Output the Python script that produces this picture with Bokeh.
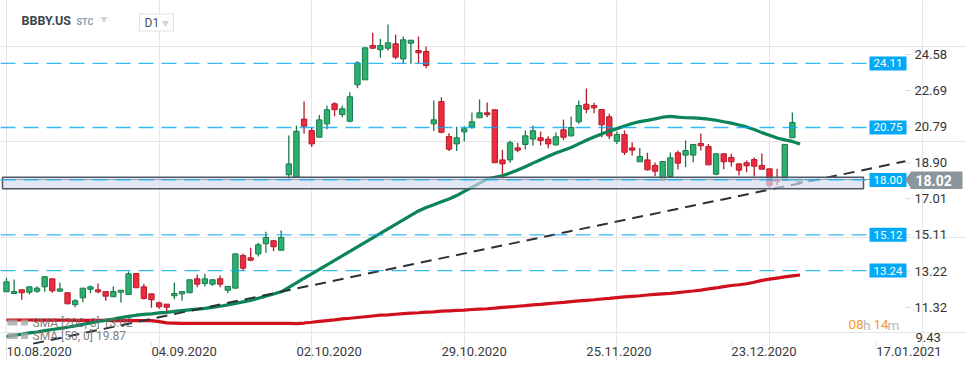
from bokeh.plotting import figure
from bokeh.models import Range1d, Label, PolyAnnotation, ColumnDataSource
from bokeh.core.properties import value
from bokeh.embed import file_html
from bokeh.resources import INLINE

# ---------------- data ----------------
symbol = "BBBY.US"
date_ticks = [0, 19, 38, 57, 76, 95, 114]
date_labels = ["10.08.2020", "04.09.2020", "02.10.2020", "29.10.2020",
               "25.11.2020", "23.12.2020", "17.01.2021"]
price_ticks = [11.32, 13.22, 15.11, 17.01, 18.90, 20.79, 22.69, 24.58]
bottom_tick = 9.43

open_ = [12.13, 12.04, 12.23, 12.11, 12.16, 12.39, 12.81, 12.16, 12.08, 11.45,
         11.81, 12.26, 12.23, 12.14, 11.87, 12.11, 11.99, 13.09, 12.39, 12.02,
         11.55, 11.48, 11.92, 12.02, 12.08, 12.81, 12.56, 12.53, 12.81, 12.21,
         12.32, 14.03, 13.91, 14.12, 14.65, 14.81, 14.31, 18.27, 18.14, 21.19,
         20.59, 20.24, 20.94, 21.99, 21.43, 21.08, 22.99, 23.25, 25.05, 24.83,
         24.91, 25.14, 24.35, 25.17, 24.79, 24.74, 20.94, 22.11, 20.28, 19.89,
         20.52, 20.77, 21.26, 21.52, 21.68, 19.05, 19.05, 19.68, 19.86, 20.14,
         20.21, 20.14, 19.84, 20.63, 20.31, 21.05, 21.97, 21.90, 21.69, 21.31,
         20.03, 20.38, 19.68, 18.95, 19.05, 18.76, 17.97, 18.18, 19.42, 19.30,
         19.30, 19.91, 19.75, 18.30, 19.37, 19.18, 18.84, 18.90, 19.07, 18.76,
         18.58, 18.00, 17.97, 20.21, 17.84]
high = [12.86, 12.77, 12.25, 12.42, 12.42, 12.95, 12.83, 12.62, 12.08, 11.74,
        12.32, 12.46, 12.56, 12.14, 12.41, 12.21, 13.19, 13.09, 12.55, 12.02,
        11.62, 11.48, 12.62, 12.14, 12.76, 13.04, 13.07, 12.76, 12.98, 12.41,
        14.12, 14.14, 14.44, 14.70, 15.28, 14.86, 15.35, 20.33, 20.85, 22.11,
        20.73, 21.41, 21.89, 22.08, 21.89, 22.60, 24.23, 24.93, 25.72, 25.40,
        26.15, 25.63, 25.52, 25.33, 25.52, 25.00, 22.17, 22.34, 20.45, 20.79,
        20.82, 21.54, 22.22, 22.06, 21.68, 19.58, 20.07, 19.95, 20.59, 20.85,
        20.54, 20.29, 20.49, 21.17, 21.33, 22.17, 22.80, 22.05, 21.69, 21.47,
        20.54, 20.59, 19.98, 19.68, 19.42, 18.91, 18.97, 19.44, 19.54, 20.07,
        19.86, 20.43, 19.89, 19.37, 19.37, 19.37, 18.88, 19.02, 19.18, 19.38,
        18.58, 18.58, 19.86, 21.54, 18.08]
low = [12.13, 12.04, 11.71, 11.99, 12.08, 12.13, 12.08, 12.13, 11.48, 11.32,
       11.58, 12.05, 12.05, 11.66, 11.87, 11.57, 11.96, 12.34, 11.73, 11.29,
       11.24, 11.08, 11.74, 11.66, 12.08, 12.37, 12.41, 12.45, 12.37, 12.05,
       12.32, 13.25, 13.73, 13.98, 14.18, 14.26, 14.31, 18.01, 18.11, 20.42,
       19.72, 20.24, 20.66, 21.34, 21.29, 21.03, 22.81, 23.25, 24.88, 24.41,
       24.79, 24.33, 24.09, 24.09, 24.09, 23.86, 20.56, 20.45, 19.51, 19.51,
       20.01, 20.68, 21.26, 21.29, 18.90, 18.06, 18.90, 19.45, 19.60, 19.80,
       19.80, 19.66, 19.80, 20.10, 20.28, 20.94, 21.50, 21.50, 20.24, 20.14,
       19.89, 19.30, 19.28, 18.95, 18.49, 18.19, 17.97, 18.18, 18.55, 18.67,
       18.93, 19.54, 18.79, 18.25, 18.56, 18.70, 18.23, 18.40, 18.18, 18.56,
       17.53, 17.71, 17.97, 20.21, 17.82]
close = [12.65, 12.14, 12.08, 12.39, 12.32, 12.92, 12.18, 12.28, 11.50, 11.66,
         12.32, 12.39, 12.13, 11.90, 12.14, 12.21, 13.07, 12.34, 11.78, 11.71,
         11.34, 11.32, 12.04, 12.14, 12.76, 12.53, 12.81, 12.76, 12.53, 12.41,
         14.12, 13.37, 13.79, 14.60, 14.98, 14.49, 14.98, 18.84, 20.55, 20.82,
         19.89, 21.15, 21.68, 21.68, 21.73, 22.36, 24.14, 24.93, 24.91, 25.05,
         25.19, 24.44, 25.35, 25.33, 24.67, 24.00, 21.15, 20.50, 19.61, 20.21,
         20.68, 21.05, 21.52, 21.42, 18.90, 18.84, 19.95, 19.56, 20.31, 20.58,
         20.07, 19.89, 20.26, 20.24, 20.75, 21.90, 21.71, 21.78, 20.89, 20.31,
         20.38, 19.45, 19.56, 19.23, 18.53, 18.46, 18.97, 19.16, 18.88, 19.54,
         19.86, 19.79, 18.79, 19.37, 18.95, 18.95, 18.51, 18.74, 18.72, 18.56,
         17.72, 17.93, 19.86, 21.01, 18.02]
sma50 = [9.77, 9.84, 9.90, 9.97, 10.02, 10.09, 10.15, 10.21, 10.27, 10.34,
         10.42, 10.49, 10.57, 10.63, 10.70, 10.77, 10.84, 10.90, 10.94, 10.97,
         11.02, 11.05, 11.10, 11.14, 11.18, 11.22, 11.26, 11.31, 11.37, 11.44,
         11.52, 11.60, 11.67, 11.79, 11.90, 12.01, 12.13, 12.36, 12.60, 12.84,
         13.07, 13.31, 13.54, 13.78, 14.01, 14.25, 14.48, 14.72, 14.96, 15.19,
         15.43, 15.67, 15.90, 16.14, 16.37, 16.55, 16.70, 16.85, 17.00, 17.18,
         17.40, 17.61, 17.83, 18.05, 18.13, 18.22, 18.36, 18.52, 18.69, 18.88,
         19.06, 19.24, 19.41, 19.55, 19.70, 19.89, 20.08, 20.25, 20.41, 20.56,
         20.69, 20.83, 20.96, 21.06, 21.12, 21.20, 21.29, 21.33, 21.29, 21.26,
         21.25, 21.23, 21.19, 21.13, 21.05, 20.98, 20.88, 20.78, 20.64, 20.48,
         20.34, 20.20, 20.10, 20.02, 19.88]
sma200 = [10.65, 10.65, 10.65, 10.65, 10.64, 10.64, 10.64, 10.64, 10.64, 10.63,
          10.63, 10.63, 10.63, 10.63, 10.62, 10.62, 10.62, 10.62, 10.62, 10.62,
          10.56, 10.50, 10.49, 10.47, 10.47, 10.47, 10.47, 10.47, 10.47, 10.47,
          10.47, 10.47, 10.47, 10.47, 10.47, 10.47, 10.47, 10.47, 10.46, 10.49,
          10.53, 10.58, 10.62, 10.66, 10.71, 10.74, 10.78, 10.82, 10.86, 10.90,
          10.92, 10.95, 10.98, 11.01, 11.03, 11.06, 11.08, 11.11, 11.13, 11.15,
          11.17, 11.20, 11.22, 11.24, 11.27, 11.31, 11.34, 11.37, 11.40, 11.44,
          11.47, 11.51, 11.54, 11.57, 11.61, 11.65, 11.68, 11.71, 11.75, 11.78,
          11.82, 11.86, 11.89, 11.92, 11.96, 11.99, 12.02, 12.05, 12.09, 12.13,
          12.17, 12.22, 12.28, 12.33, 12.40, 12.46, 12.50, 12.55, 12.63, 12.73,
          12.79, 12.85, 12.91, 12.96, 13.01]
levels = [24.11, 20.75, 18.00, 15.12, 13.24]
zone_top, zone_bottom = 18.14, 17.53
trend_x = [3.5, 117.8]
trend_y = [9.41, 18.98]
last_price = 18.02
sma200_last = 13.02
sma50_last = 19.87
timer_parts = ["08", "h", "14", "m"]

# ---------------- layout ----------------
W, H = 966, 360
X0, X1 = -0.786, 125.82
Y0, Y1 = 8.524, 27.413
SX = W / (X1 - X0)
SY = H / (Y1 - Y0)


def px2i(px):
    return X0 + px / SX


def px2v(py):
    return Y1 - py / SY


FONT = "Roboto"
GREEN_FILL, GREEN_LINE = "#2bb06f", "#1a7a4c"
RED_FILL, RED_LINE = "#ee2a3d", "#b01e2c"
BLUE = "#03a9f4"

p = figure(width=W, height=H, x_range=Range1d(X0, X1), y_range=Range1d(Y0, Y1),
           output_backend="svg", toolbar_location=None, x_axis_location=None,
           y_axis_location=None, min_border=0)
p.outline_line_color = None
p.background_fill_color = "white"
p.border_fill_color = "white"

# price scale (right side)
p.segment(x0=[px2i(905)] * len(price_ticks), x1=[px2i(910)] * len(price_ticks),
          y0=price_ticks, y1=price_ticks, line_color="#d8d8d8", line_width=1)
p.text(x=[px2i(914)] * len(price_ticks), y=price_ticks,
       text=["%.2f" % t for t in price_ticks], text_align="left", text_baseline="middle",
       text_font=value(FONT), text_font_size="13px", text_color="#333333")
p.text(x=[px2i(915)], y=[px2v(337)], text=["%.2f" % bottom_tick], text_align="left",
       text_baseline="middle", text_font=value(FONT), text_font_size="13px",
       text_color="#333333")

# time scale (bottom)
p.segment(x0=date_ticks, x1=date_ticks, y0=[px2v(342)] * len(date_ticks),
          y1=[px2v(346)] * len(date_ticks), line_color="#e2e2e2", line_width=1)
p.text(x=date_ticks, y=[px2v(351)] * len(date_ticks), text=date_labels, text_align="left",
       text_baseline="middle", text_font=value(FONT), text_font_size="13px",
       text_color="#3a3a3a")

# candles
idx = list(range(len(close)))
up = [c >= o for o, c in zip(open_, close)]
src = ColumnDataSource(dict(
    x=idx, o=open_, h=high, l=low, c=close,
    top=[max(o, c) for o, c in zip(open_, close)],
    bot=[min(o, c) for o, c in zip(open_, close)],
    fill=[GREEN_FILL if u else RED_FILL for u in up],
    line=[GREEN_LINE if u else RED_LINE for u in up],
))
p.segment(x0="x", x1="x", y0="l", y1="h", source=src, line_color="line", line_width=1.3)
p.vbar(x="x", width=0.7, top="top", bottom="bot", source=src,
       fill_color="fill", line_color="line", line_width=1)

# moving averages and trend
p.line(idx, sma200, line_color="#d0101c", line_width=3.2)
p.line(idx, sma50, line_color="#0b8457", line_width=3.2)
p.line(trend_x, trend_y, line_color="#2b3137", line_width=2, line_dash="11 7")

# zone band (drawn over everything, translucent)
p.quad(left=[px2i(2)], right=[px2i(863)], top=[zone_top], bottom=[zone_bottom],
       fill_color="#d6daef", fill_alpha=0.68, line_color="#4f5963", line_width=1.5)
p.segment(x0=[px2i(0)], x1=[px2i(905)], y0=[last_price], y1=[last_price],
          line_color="#9aa2aa", line_width=1)

# horizontal levels
p.segment(x0=[px2i(0)] * len(levels), x1=[px2i(869)] * len(levels), y0=levels, y1=levels,
          line_color=BLUE, line_alpha=0.8, line_width=1.3, line_dash="15 8")
lx = [px2i(887.5)] * len(levels)
p.rect(x=lx, y=levels, width=37, height=14, width_units="screen", height_units="screen",
       fill_color=BLUE, line_color=None)
p.text(x=lx, y=levels, text=["%.2f" % v for v in levels], text_align="center",
       text_baseline="middle", text_font=value(FONT), text_font_size="11.5px",
       text_color="white")

# last price tag
p.add_layout(PolyAnnotation(xs=[px2i(911), px2i(904.5), px2i(911)],
                            ys=[px2v(171), last_price, px2v(188.5)],
                            fill_color="#8b959c", fill_alpha=1, line_color=None))
p.rect(x=[px2i(936)], y=[px2v(179.7)], width=52, height=17.5, width_units="screen",
       height_units="screen", fill_color="#8b959c", line_color=None)
p.text(x=[px2i(915)], y=[px2v(179.7)], text=["%.2f" % last_price], text_align="left",
       text_baseline="middle", text_font=value(FONT), text_font_style="bold",
       text_font_size="14px", text_color="white")

# header
p.add_layout(Label(x=px2i(21), y=px2v(20), text=symbol, text_align="left",
                   text_baseline="middle", text_font=FONT, text_font_style="bold",
                   text_font_size="12.5px", text_color="#3b4550"))
p.add_layout(Label(x=px2i(76), y=px2v(21.5), text="STC", text_align="left",
                   text_baseline="middle", text_font=FONT, text_font_size="9px",
                   text_font_style="bold", text_color="#8a9bb0"))
p.rect(x=[px2i(156)], y=[px2v(22)], width=34, height=17, width_units="screen",
       height_units="screen", fill_color="white", line_color="#dde1e6")
p.add_layout(Label(x=px2i(144), y=px2v(22), text="D1", text_align="left",
                   text_baseline="middle", text_font=FONT, text_font_size="12px",
                   text_color="#4a525a"))
p.scatter(x=[px2i(103.5), px2i(165)], y=[px2v(18.5), px2v(22.5)], marker="inverted_triangle",
          size=7, fill_color="#cfd3d8", line_color=None)

# legend rows
legend_rows = [("SMA [200, 0] %.2f" % sma200_last, 322), ("SMA [50, 0] %.2f" % sma50_last, 335.5)]
for txt, py in legend_rows:
    p.rect(x=[px2i(12), px2i(24)], y=[px2v(py)] * 2, width=[10, 7], height=6,
           width_units="screen", height_units="screen", fill_color="#a8a8a8",
           fill_alpha=0.8, line_color=None)
    p.add_layout(Label(x=px2i(32), y=px2v(py), text=txt, text_align="left",
                       text_baseline="middle", text_font=FONT, text_font_size="12px",
                       text_color="#707070", text_alpha=0.9))

# countdown timer
timer_x = [848, 862.5, 873, 887]
timer_col = ["#f59a1b", "#b4b8bd", "#f59a1b", "#b4b8bd"]
for s, tx, col in zip(timer_parts, timer_x, timer_col):
    p.add_layout(Label(x=px2i(tx), y=px2v(324), text=s, text_align="left",
                       text_baseline="middle", text_font=FONT, text_font_size="13.5px",
                       text_color=col))

open("out.html", "w").write(file_html(p, INLINE))
